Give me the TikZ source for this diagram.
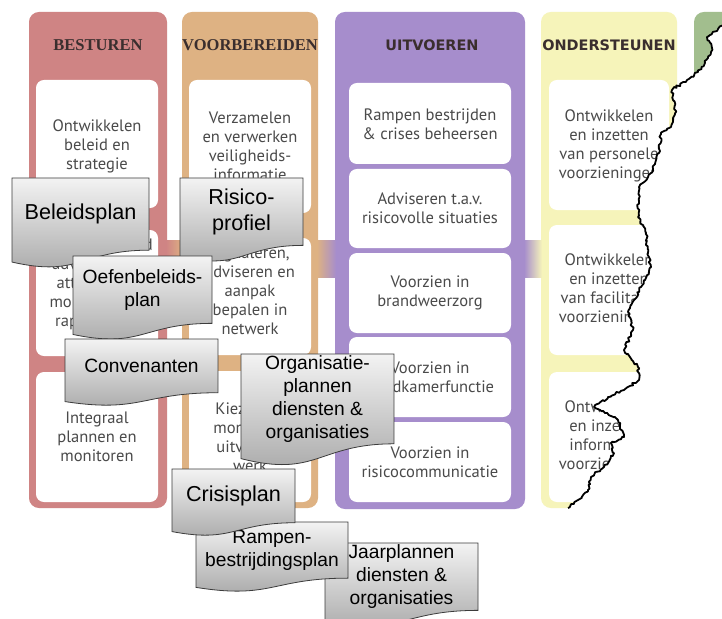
\documentclass[tikz,border=0pt]{standalone}
\usepackage{fontspec}
\setmainfont{PT Sans}
\newfontfamily\kopschreef{Liberation Serif}
\newfontfamily\kopsans{DejaVu Sans}
\newfontfamily\docschrift{Liberation Sans}
\usepackage[dvipsnames]{xcolor}
\usepackage{tikz}
\usetikzlibrary{positioning,calc,decorations.pathmorphing}

\definecolor{besturen}{HTML}{CF8484}
\definecolor{voorbereiden}{HTML}{DEB283}
\definecolor{uitvoeren}{HTML}{A68DCC}
\definecolor{ondersteunen}{HTML}{F6F4BA}
\definecolor{vijfde}{HTML}{A2BE8E}
\definecolor{tekstgrijs}{HTML}{4A4A4A}
\definecolor{kopbruin}{HTML}{3A2E2E}
\definecolor{docrand}{HTML}{3C3C3C}
\definecolor{docboven}{HTML}{F3F3F3}
\definecolor{doconder}{HTML}{A6A6A6}

% document met golvende onderrand: [opties] naam, links, boven, rechts, hoogte, tekst
\newcommand{\docblad}[7][]{%
  \shadedraw[docvorm] (#3,#4) -- (#5,#4) -- (#5,{#4+0.802*#6})
    .. controls ({(#3+#5)/2},{#4+0.802*#6}) and ({(#3+#5)/2},{#4+1.108*#6}) .. (#3,{#4+0.934*#6}) -- cycle;
  \node[doctekst,#1] (#2) at ({(#3+#5)/2},{#4+0.401*#6}) {#7};}

% gescheurde rand
\newcommand{\scheur}{(724,24) -- (707,37) -- (712,48) -- (708,58) -- (698,72) -- (687,80) -- (672,90) -- (673,100) -- (676,112) -- (671,127) -- (661,134) -- (659,153) -- (651,173) -- (639,187) -- (638,217) -- (646,233) -- (648,253) -- (651,267) -- (641,287) -- (634,300) -- (628,312) -- (633,330) -- (624,350) -- (638,367) -- (639,380) -- (624,390) -- (608,397) -- (594,407) -- (618,420) -- (624,437) -- (611,443) -- (614,453) -- (604,467) -- (591,477) -- (588,490) -- (578,500) -- (568,508)}

\begin{document}
\begin{tikzpicture}[x=1bp,y=-1bp,
  kolom/.style={rounded corners=10pt},
  vak/.style={fill=white,rounded corners=8pt},
  vaktekst/.style={align=center,text=tekstgrijs,font=\fontsize{16.6}{19}\selectfont},
  kop/.style={text=kopbruin,font=\kopsans\bfseries\fontsize{14.5}{16}\selectfont},
  kopserif/.style={text=kopbruin,font=\kopschreef\bfseries\fontsize{16.6}{18}\selectfont},
  docvorm/.style={draw=docrand,line width=0.8bp,top color=docboven,bottom color=doconder},
  doctekst/.style={align=center,font=\docschrift\fontsize{19.3}{23}\selectfont},
  groot/.style={font=\docschrift\fontsize{21.7}{26}\selectfont},
  scheur/.style={draw=black,line width=1.8bp,line join=round,decorate,
    decoration={random steps,segment length=2.2bp,amplitude=1.3bp}}]
  \pgfmathsetseed{7}
  \useasboundingbox (0,0) rectangle (722,619);
  \clip (0,0) rectangle (722,619);
  \fill[white] (0,0) rectangle (722,619);

  % kolommen
  \fill[besturen,kolom] (29,12) rectangle (167,508);
  \fill[voorbereiden,kolom] (182,12) rectangle (318,508);
  \fill[uitvoeren,kolom] (335,12) rectangle (525,509);
  \fill[ondersteunen,kolom] (541,12) rectangle (677,508);
  \fill[vijfde,kolom] (694,12) rectangle (800,508);
  \shade[left color=besturen,right color=voorbereiden] (166,240) rectangle (183,277);
  \shade[left color=voorbereiden,right color=uitvoeren] (317,240) rectangle (336,277);
  \shade[left color=uitvoeren,right color=ondersteunen] (524,240) rectangle (542,277);

  \node[kopserif] (kopbesturen) at (98,45) {BESTUREN};
  \node[kopserif] (kopvoorbereiden) at (250,45) {VOORBEREIDEN};
  \node[kop] (kopuitvoeren) at (432,45) {UITVOEREN};
  \node[kop] (kopondersteunen) at (609,45) {ONDERSTEUNEN};

  % witte vakken
  \fill[vak] (36,80) rectangle (158,208) (36,230) rectangle (158,356) (36,372) rectangle (158,502);
  \fill[vak] (189,80) rectangle (311,213) (189,238) rectangle (311,355) (189,371) rectangle (311,502);
  \fill[vak] (349,83) rectangle (511,164) (349,169) rectangle (511,248) (349,253) rectangle (511,333)
    (349,337) rectangle (511,417) (349,422) rectangle (511,502);
  \fill[vak] (549,80) rectangle (669,210) (549,225) rectangle (669,355) (549,372) rectangle (669,502);

  \node[vaktekst] (beleid) at (97,146) {Ontwikkelen\\beleid en\\strategie};
  \node[vaktekst] (bewaken) at (97,284) {Bewaken beleid\\adviseren en\\attenderen,\\monitoren en\\rapporteren};
  \node[vaktekst] (integraal) at (97,437) {Integraal\\plannen en\\monitoren};
  \node[vaktekst] (verzamelen) at (250,146) {Verzamelen\\en verwerken\\veiligheids-\\informatie};
  \node[vaktekst] (signaleren) at (250,291) {Signaleren,\\adviseren en\\aanpak\\bepalen in\\netwerk};
  \node[vaktekst] (kiezen) at (250,437) {Kiezen en\\monitoren\\uitvoeren\\werk};
  \node[vaktekst] (rampen) at (430,124) {Rampen bestrijden\\\& crises beheersen};
  \node[vaktekst] (adviseren) at (430,208) {Adviseren t.a.v.\\risicovolle situaties};
  \node[vaktekst] (brandweer) at (430,293) {Voorzien in\\brandweerzorg};
  \node[vaktekst] (meldkamer) at (430,377) {Voorzien in\\meldkamerfunctie};
  \node[vaktekst] (risicocomm) at (430,462) {Voorzien in\\risicocommunicatie};
  \node[vaktekst] (personeel) at (609,146) {Ontwikkelen\\en inzetten\\van personele\\voorzieningen};
  \node[vaktekst] (facilitair) at (609,290) {Ontwikkelen\\en inzetten\\van facilitaire\\voorzieningen};
  \node[vaktekst] (informatie) at (609,437) {Ontwikkelen\\en inzetten\\informatie-\\voorzieningen};

  % afgescheurd stuk
  \fill[white] \scheur -- (560,512) -- (560,630) -- (730,630) -- (730,24) -- cycle;
  \draw[scheur] \scheur;

  % documenten
  \docblad[groot]{beleidsplan}{12}{178}{149}{90}{Beleidsplan}
  \docblad[groot]{risicoprofiel}{180}{178}{303}{84}{Risico-\\profiel}
  \docblad{oefenplan}{73}{256}{212}{84}{Oefenbeleids-\\plan}
  \docblad{convenanten}{65}{339}{218}{67}{Convenanten}
  \docblad{orgplannen}{241}{354}{394}{112}{Organisatie-\\plannen\\diensten \&\\organisaties}
  \docblad{jaarplannen}{325}{543}{478}{84}{Jaarplannen\\diensten \&\\organisaties}
  \docblad{rampenplan}{196}{522}{348}{70}{Rampen-\\bestrijdingsplan}
  \docblad[groot]{crisisplan}{172}{469}{295}{67}{Crisisplan}
\end{tikzpicture}
\end{document}
